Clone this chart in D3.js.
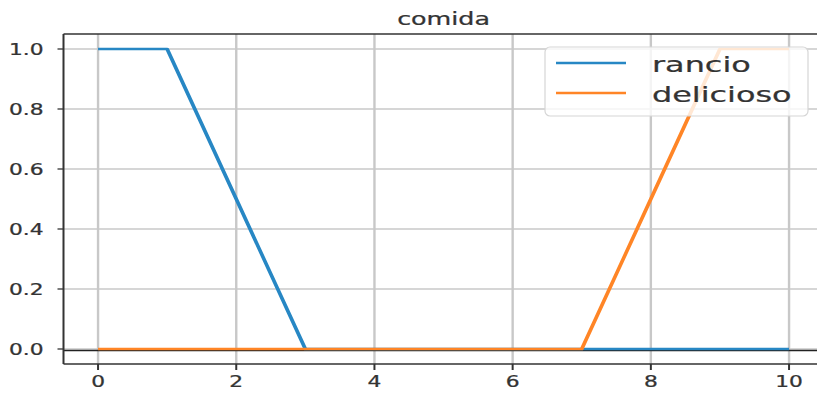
<!DOCTYPE html>
<html><head><meta charset="utf-8">
<script src="https://cdn.jsdelivr.net/npm/d3@7"></script>
<style>body{margin:0;background:#fff}svg{display:block}text{font-family:"DejaVu Sans",sans-serif;fill:#333;stroke:#333;stroke-width:0.25}</style>
</head><body><svg id="c" width="817" height="395"></svg>
<script>
const title = "comida";
const xValues = [0,1,2,3,4,5,6,7,8,9,10];
const rancio = [1,1,0.5,0,0,0,0,0,0,0,0];
const delicioso = [0,0,0,0,0,0,0,0,0.5,1,1];
const seriesNames = ["rancio","delicioso"];
const xTicks = [0,2,4,6,8,10];
const yTicks = [0,0.2,0.4,0.6,0.8,1.0];

const colors = ["#2787c4","#ff8526"];
const SX = 1.45; // horizontal stretch of the picture
const svg = d3.select("#c");
const x = d3.scaleLinear().domain([-0.5,10.5]).range([63.5,823.6]);
const y = d3.scaleLinear().domain([-0.05,1.05]).range([364,34]);
// same x scale, expressed in an unstretched space (drawn inside scale(SX,1))
const xs = d3.scaleLinear().domain(x.domain()).range(x.range().map(v=>v/SX));

// grid
svg.append("g").selectAll("line").data(xTicks).join("line")
  .attr("x1",d=>x(d)).attr("x2",d=>x(d)).attr("y1",y(-0.05)).attr("y2",y(1.05))
  .attr("stroke","#c8c8c8").attr("stroke-width",2.4);
svg.append("g").selectAll("line").data(yTicks).join("line")
  .attr("x1",x(-0.5)).attr("x2",x(10.5)).attr("y1",d=>y(d)).attr("y2",d=>y(d))
  .attr("stroke","#c8c8c8").attr("stroke-width",1.3);

// axhline at 0
svg.append("line").attr("x1",x(-0.5)).attr("x2",x(10.5)).attr("y1",y(0)).attr("y2",y(0))
  .attr("transform","translate(0,1.5)")
  .attr("stroke","#222").attr("stroke-width",1.5);

const plot = svg.append("g").attr("transform",`scale(${SX},1)`);
const line = d3.line().x((d,i)=>xs(xValues[i])).y(d=>y(d));
[rancio,delicioso].forEach((s,i)=>{
  plot.append("path").attr("d",line(s)).attr("fill","none")
    .attr("stroke",colors[i]).attr("stroke-width",2.6).attr("stroke-linejoin","round");
});

// spines
svg.append("line").attr("x1",x(-0.5)).attr("x2",x(-0.5)).attr("y1",y(1.05)).attr("y2",y(-0.05)).attr("stroke","#333").attr("stroke-width",2);
svg.append("line").attr("x1",x(-0.5)).attr("x2",x(10.5)).attr("y1",y(1.05)).attr("y2",y(1.05)).attr("stroke","#333").attr("stroke-width",1.3);
svg.append("line").attr("x1",x(-0.5)).attr("x2",x(10.5)).attr("y1",y(-0.05)).attr("y2",y(-0.05)).attr("stroke","#333").attr("stroke-width",1.3);
svg.append("line").attr("x1",x(10.5)).attr("x2",x(10.5)).attr("y1",y(1.05)).attr("y2",y(-0.05)).attr("stroke","#333").attr("stroke-width",2);

// ticks
svg.append("g").selectAll("line").data(yTicks).join("line")
  .attr("x1",x(-0.5)-6).attr("x2",x(-0.5)).attr("y1",d=>y(d)).attr("y2",d=>y(d))
  .attr("stroke","#333").attr("stroke-width",1.3);
svg.append("g").selectAll("line").data(xTicks).join("line")
  .attr("x1",d=>x(d)).attr("x2",d=>x(d)).attr("y1",y(-0.05)).attr("y2",y(-0.05)+6)
  .attr("stroke","#333").attr("stroke-width",2);

function stext(g, str, px, py, size, anchor){
  return g.append("text").text(str)
    .attr("transform",`translate(${px},${py}) scale(${SX},1)`)
    .attr("font-size",size).attr("text-anchor",anchor);
}
yTicks.forEach(t=>stext(svg, t.toFixed(1), x(-0.5)-20, y(t)+6, 15, "end"));
xTicks.forEach(t=>stext(svg, String(t), x(t), y(-0.05)+23, 15, "middle"));
stext(svg, title, (x(-0.5)+x(10.5))/2, 25, 17.5, "middle");

// legend
const lg = svg.append("g");
lg.append("rect").attr("x",545).attr("y",47).attr("width",263).attr("height",69).attr("rx",5)
  .attr("fill","#fff").attr("fill-opacity",0.8).attr("stroke","#d6d6d6").attr("stroke-width",1.2);
seriesNames.forEach((n,i)=>{
  const yy = 63 + i*30;
  lg.append("line").attr("x1",556).attr("x2",626).attr("y1",yy).attr("y2",yy)
    .attr("stroke",colors[i]).attr("stroke-width",2.6);
  stext(lg, n, 652, yy+9, 22, "start");
});
</script></body></html>
